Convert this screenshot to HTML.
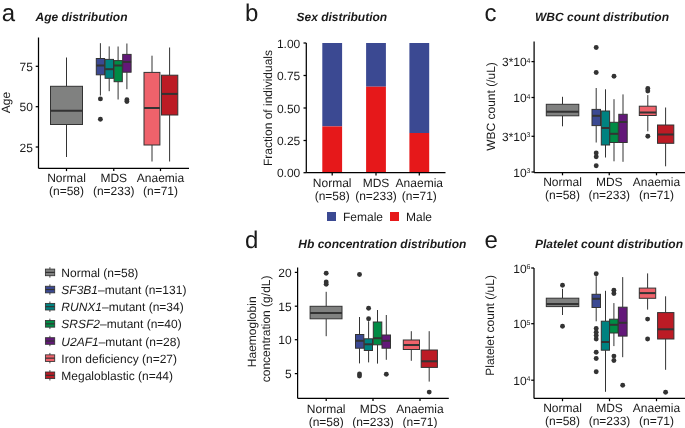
<!DOCTYPE html>
<html><head><meta charset="utf-8"><style>
html,body{margin:0;padding:0;background:#fff;width:685px;height:428px;overflow:hidden}
svg{display:block;font-family:"Liberation Sans", sans-serif;text-rendering:geometricPrecision;will-change:transform}
</style></head><body>
<svg width="685" height="428" viewBox="0 0 685 428">
<rect width="685" height="428" fill="#fff"/>
<text x="1.7" y="20.6" font-size="24" text-anchor="start" font-weight="normal" font-style="normal" fill="#1a1a1a" >a</text>
<text x="35.5" y="20.9" font-size="12" text-anchor="start" font-weight="bold" font-style="italic" fill="#1a1a1a" >Age distribution</text>
<line x1="66.5" y1="57.5" x2="66.5" y2="86.3" stroke="#333333" stroke-width="1"/>
<line x1="66.5" y1="124.5" x2="66.5" y2="157" stroke="#333333" stroke-width="1"/>
<rect x="50.5" y="86.3" width="32.00" height="38.20" fill="#808180" stroke="#333333" stroke-width="1"/>
<line x1="50.5" y1="110.8" x2="82.5" y2="110.8" stroke="#333333" stroke-width="2"/>
<line x1="100.4" y1="43.2" x2="100.4" y2="58.5" stroke="#333333" stroke-width="1"/>
<line x1="100.4" y1="74.8" x2="100.4" y2="95.5" stroke="#333333" stroke-width="1"/>
<rect x="96.3" y="58.5" width="8.30" height="16.30" fill="#3B4992" stroke="#333333" stroke-width="1"/>
<line x1="96.3" y1="65.5" x2="104.6" y2="65.5" stroke="#333333" stroke-width="2"/>
<circle cx="100.4" cy="98.9" r="2.45" fill="#333333"/>
<circle cx="100.4" cy="119.2" r="2.45" fill="#333333"/>
<line x1="109.2" y1="46.4" x2="109.2" y2="59.4" stroke="#333333" stroke-width="1"/>
<line x1="109.2" y1="78.3" x2="109.2" y2="91.2" stroke="#333333" stroke-width="1"/>
<rect x="105.1" y="59.4" width="8.40" height="18.90" fill="#008280" stroke="#333333" stroke-width="1"/>
<line x1="105.1" y1="69.2" x2="113.5" y2="69.2" stroke="#333333" stroke-width="2"/>
<line x1="118.1" y1="46.5" x2="118.1" y2="60.6" stroke="#333333" stroke-width="1"/>
<line x1="118.1" y1="81.7" x2="118.1" y2="99.5" stroke="#333333" stroke-width="1"/>
<rect x="114.1" y="60.6" width="8.20" height="21.10" fill="#008B45" stroke="#333333" stroke-width="1"/>
<line x1="114.1" y1="65.5" x2="122.3" y2="65.5" stroke="#333333" stroke-width="2"/>
<line x1="126.9" y1="43.5" x2="126.9" y2="54.4" stroke="#333333" stroke-width="1"/>
<line x1="126.9" y1="72.2" x2="126.9" y2="89.2" stroke="#333333" stroke-width="1"/>
<rect x="122.7" y="54.4" width="8.40" height="17.80" fill="#631879" stroke="#333333" stroke-width="1"/>
<line x1="122.7" y1="61.9" x2="131.1" y2="61.9" stroke="#333333" stroke-width="2"/>
<circle cx="126.9" cy="99.8" r="2.45" fill="#333333"/>
<circle cx="126.9" cy="101.5" r="2.45" fill="#333333"/>
<line x1="152" y1="55.7" x2="152" y2="72.4" stroke="#333333" stroke-width="1"/>
<line x1="152" y1="145" x2="152" y2="161.5" stroke="#333333" stroke-width="1"/>
<rect x="144.0" y="72.4" width="15.90" height="72.60" fill="#EF626B" stroke="#333333" stroke-width="1"/>
<line x1="144.0" y1="108" x2="159.9" y2="108" stroke="#333333" stroke-width="2"/>
<line x1="169.6" y1="47.5" x2="169.6" y2="75.2" stroke="#333333" stroke-width="1"/>
<line x1="169.6" y1="115" x2="169.6" y2="161.5" stroke="#333333" stroke-width="1"/>
<rect x="161.5" y="75.2" width="16.30" height="39.80" fill="#BC1B25" stroke="#333333" stroke-width="1"/>
<line x1="161.5" y1="93.9" x2="177.8" y2="93.9" stroke="#333333" stroke-width="2"/>
<line x1="38.5" y1="37.5" x2="38.5" y2="168.3" stroke="#000" stroke-width="1.25"/>
<line x1="38.5" y1="168.3" x2="189" y2="168.3" stroke="#000" stroke-width="1.25"/>
<line x1="35.7" y1="66.3" x2="38.5" y2="66.3" stroke="#000" stroke-width="1.25"/>
<text x="32.9" y="70.8" font-size="12" text-anchor="end" font-weight="normal" font-style="normal" fill="#1a1a1a" >75</text>
<line x1="35.7" y1="106.7" x2="38.5" y2="106.7" stroke="#000" stroke-width="1.25"/>
<text x="32.9" y="111.2" font-size="12" text-anchor="end" font-weight="normal" font-style="normal" fill="#1a1a1a" >50</text>
<line x1="35.7" y1="147" x2="38.5" y2="147" stroke="#000" stroke-width="1.25"/>
<text x="32.9" y="151.5" font-size="12" text-anchor="end" font-weight="normal" font-style="normal" fill="#1a1a1a" >25</text>
<line x1="66.5" y1="168.3" x2="66.5" y2="171.10000000000002" stroke="#000" stroke-width="1.25"/>
<text x="66.5" y="182.3" font-size="12" text-anchor="middle" font-weight="normal" font-style="normal" fill="#1a1a1a" >Normal</text>
<text x="66.5" y="195.3" font-size="12" text-anchor="middle" font-weight="normal" font-style="normal" fill="#1a1a1a" >(n=58)</text>
<line x1="113.75" y1="168.3" x2="113.75" y2="171.10000000000002" stroke="#000" stroke-width="1.25"/>
<text x="113.75" y="182.3" font-size="12" text-anchor="middle" font-weight="normal" font-style="normal" fill="#1a1a1a" >MDS</text>
<text x="113.75" y="195.3" font-size="12" text-anchor="middle" font-weight="normal" font-style="normal" fill="#1a1a1a" >(n=233)</text>
<line x1="160.5" y1="168.3" x2="160.5" y2="171.10000000000002" stroke="#000" stroke-width="1.25"/>
<text x="160.5" y="182.3" font-size="12" text-anchor="middle" font-weight="normal" font-style="normal" fill="#1a1a1a" >Anaemia</text>
<text x="160.5" y="195.3" font-size="12" text-anchor="middle" font-weight="normal" font-style="normal" fill="#1a1a1a" >(n=71)</text>
<text x="0" y="0" font-size="12" text-anchor="middle" fill="#1a1a1a" transform="translate(10.2,102.5) rotate(-90)">Age</text>
<text x="245" y="20.6" font-size="24" text-anchor="start" font-weight="normal" font-style="normal" fill="#1a1a1a" >b</text>
<text x="296.5" y="20.9" font-size="12" text-anchor="start" font-weight="bold" font-style="italic" fill="#1a1a1a" >Sex distribution</text>
<rect x="322.3" y="43" width="19.8" height="83.40" fill="#3B4992"/>
<rect x="322.3" y="126.4" width="19.8" height="46.30" fill="#E6181A"/>
<rect x="366.1" y="43" width="19.8" height="43.70" fill="#3B4992"/>
<rect x="366.1" y="86.7" width="19.8" height="86.00" fill="#E6181A"/>
<rect x="409.4" y="43" width="19.8" height="90.00" fill="#3B4992"/>
<rect x="409.4" y="133.0" width="19.8" height="39.70" fill="#E6181A"/>
<line x1="306.3" y1="43" x2="306.3" y2="172.7" stroke="#000" stroke-width="1.25"/>
<line x1="306.3" y1="172.7" x2="445.5" y2="172.7" stroke="#000" stroke-width="1.25"/>
<line x1="303.5" y1="43" x2="306.3" y2="43" stroke="#000" stroke-width="1.25"/>
<text x="300.3" y="47.5" font-size="12" text-anchor="end" font-weight="normal" font-style="normal" fill="#1a1a1a" >1.00</text>
<line x1="303.5" y1="75.5" x2="306.3" y2="75.5" stroke="#000" stroke-width="1.25"/>
<text x="300.3" y="80.0" font-size="12" text-anchor="end" font-weight="normal" font-style="normal" fill="#1a1a1a" >0.75</text>
<line x1="303.5" y1="108" x2="306.3" y2="108" stroke="#000" stroke-width="1.25"/>
<text x="300.3" y="112.5" font-size="12" text-anchor="end" font-weight="normal" font-style="normal" fill="#1a1a1a" >0.50</text>
<line x1="303.5" y1="140.5" x2="306.3" y2="140.5" stroke="#000" stroke-width="1.25"/>
<text x="300.3" y="145.0" font-size="12" text-anchor="end" font-weight="normal" font-style="normal" fill="#1a1a1a" >0.25</text>
<line x1="303.5" y1="172.7" x2="306.3" y2="172.7" stroke="#000" stroke-width="1.25"/>
<text x="300.3" y="177.2" font-size="12" text-anchor="end" font-weight="normal" font-style="normal" fill="#1a1a1a" >0.00</text>
<line x1="332.2" y1="172.7" x2="332.2" y2="175.5" stroke="#000" stroke-width="1.25"/>
<text x="332.2" y="186.9" font-size="12" text-anchor="middle" font-weight="normal" font-style="normal" fill="#1a1a1a" >Normal</text>
<text x="332.2" y="199.9" font-size="12" text-anchor="middle" font-weight="normal" font-style="normal" fill="#1a1a1a" >(n=58)</text>
<line x1="376" y1="172.7" x2="376" y2="175.5" stroke="#000" stroke-width="1.25"/>
<text x="376" y="186.9" font-size="12" text-anchor="middle" font-weight="normal" font-style="normal" fill="#1a1a1a" >MDS</text>
<text x="376" y="199.9" font-size="12" text-anchor="middle" font-weight="normal" font-style="normal" fill="#1a1a1a" >(n=233)</text>
<line x1="419.3" y1="172.7" x2="419.3" y2="175.5" stroke="#000" stroke-width="1.25"/>
<text x="419.3" y="186.9" font-size="12" text-anchor="middle" font-weight="normal" font-style="normal" fill="#1a1a1a" >Anaemia</text>
<text x="419.3" y="199.9" font-size="12" text-anchor="middle" font-weight="normal" font-style="normal" fill="#1a1a1a" >(n=71)</text>
<text x="0" y="0" font-size="12" text-anchor="middle" fill="#1a1a1a" transform="translate(271.5,108) rotate(-90)">Fraction of individuals</text>
<rect x="327" y="212" width="9" height="9" fill="#3B4992"/>
<text x="343" y="220.5" font-size="12" text-anchor="start" font-weight="normal" font-style="normal" fill="#1a1a1a" >Female</text>
<rect x="390" y="212" width="9" height="9" fill="#E6181A"/>
<text x="406" y="220.5" font-size="12" text-anchor="start" font-weight="normal" font-style="normal" fill="#1a1a1a" >Male</text>
<text x="484.5" y="20.6" font-size="24" text-anchor="start" font-weight="normal" font-style="normal" fill="#1a1a1a" >c</text>
<text x="535" y="20.9" font-size="12" text-anchor="start" font-weight="bold" font-style="italic" fill="#1a1a1a" >WBC count distribution</text>
<line x1="562.5" y1="96.8" x2="562.5" y2="104.3" stroke="#333333" stroke-width="1"/>
<line x1="562.5" y1="115.8" x2="562.5" y2="126.3" stroke="#333333" stroke-width="1"/>
<rect x="546.3" y="104.3" width="32.50" height="11.50" fill="#808180" stroke="#333333" stroke-width="1"/>
<line x1="546.3" y1="111.8" x2="578.8" y2="111.8" stroke="#333333" stroke-width="2"/>
<line x1="596.2" y1="88" x2="596.2" y2="109.4" stroke="#333333" stroke-width="1"/>
<line x1="596.2" y1="125.6" x2="596.2" y2="142.5" stroke="#333333" stroke-width="1"/>
<rect x="592" y="109.4" width="8.50" height="16.20" fill="#3B4992" stroke="#333333" stroke-width="1"/>
<line x1="592" y1="115.8" x2="600.5" y2="115.8" stroke="#333333" stroke-width="2"/>
<circle cx="596.2" cy="47.5" r="2.45" fill="#333333"/>
<circle cx="596.2" cy="72.5" r="2.45" fill="#333333"/>
<circle cx="596.2" cy="153" r="2.45" fill="#333333"/>
<circle cx="596.2" cy="156.8" r="2.45" fill="#333333"/>
<circle cx="596.2" cy="165.8" r="2.45" fill="#333333"/>
<line x1="605.5" y1="89.3" x2="605.5" y2="111" stroke="#333333" stroke-width="1"/>
<line x1="605.5" y1="145" x2="605.5" y2="157.5" stroke="#333333" stroke-width="1"/>
<rect x="601.3" y="111" width="8.30" height="34.00" fill="#008280" stroke="#333333" stroke-width="1"/>
<line x1="601.3" y1="128" x2="609.6" y2="128" stroke="#333333" stroke-width="2"/>
<line x1="614" y1="99.2" x2="614" y2="122.3" stroke="#333333" stroke-width="1"/>
<line x1="614" y1="142.5" x2="614" y2="161.3" stroke="#333333" stroke-width="1"/>
<rect x="609.8" y="122.3" width="8.50" height="20.20" fill="#008B45" stroke="#333333" stroke-width="1"/>
<line x1="609.8" y1="133.8" x2="618.3" y2="133.8" stroke="#333333" stroke-width="2"/>
<circle cx="614" cy="76.2" r="2.45" fill="#333333"/>
<line x1="623" y1="94.4" x2="623" y2="114.3" stroke="#333333" stroke-width="1"/>
<line x1="623" y1="142.5" x2="623" y2="161.8" stroke="#333333" stroke-width="1"/>
<rect x="618.8" y="114.3" width="8.40" height="28.20" fill="#631879" stroke="#333333" stroke-width="1"/>
<line x1="618.8" y1="122" x2="627.2" y2="122" stroke="#333333" stroke-width="2"/>
<line x1="647.8" y1="95.1" x2="647.8" y2="106.2" stroke="#333333" stroke-width="1"/>
<line x1="647.8" y1="115.5" x2="647.8" y2="131.3" stroke="#333333" stroke-width="1"/>
<rect x="639.3" y="106.2" width="16.90" height="9.30" fill="#EF626B" stroke="#333333" stroke-width="1"/>
<line x1="639.3" y1="112.5" x2="656.2" y2="112.5" stroke="#333333" stroke-width="2"/>
<circle cx="647.8" cy="88.5" r="2.45" fill="#333333"/>
<circle cx="647.8" cy="91" r="2.45" fill="#333333"/>
<circle cx="647.8" cy="136.3" r="2.45" fill="#333333"/>
<line x1="665.6" y1="107.5" x2="665.6" y2="125" stroke="#333333" stroke-width="1"/>
<line x1="665.6" y1="143.3" x2="665.6" y2="166.3" stroke="#333333" stroke-width="1"/>
<rect x="657.5" y="125" width="16.30" height="18.30" fill="#BC1B25" stroke="#333333" stroke-width="1"/>
<line x1="657.5" y1="134.5" x2="673.8" y2="134.5" stroke="#333333" stroke-width="2"/>
<line x1="534.1" y1="41.5" x2="534.1" y2="172.5" stroke="#000" stroke-width="1.25"/>
<line x1="534.1" y1="172.5" x2="685" y2="172.5" stroke="#000" stroke-width="1.25"/>
<line x1="562.5" y1="172.5" x2="562.5" y2="175.3" stroke="#000" stroke-width="1.25"/>
<text x="562.5" y="186.4" font-size="12" text-anchor="middle" font-weight="normal" font-style="normal" fill="#1a1a1a" >Normal</text>
<text x="562.5" y="199.4" font-size="12" text-anchor="middle" font-weight="normal" font-style="normal" fill="#1a1a1a" >(n=58)</text>
<line x1="609.25" y1="172.5" x2="609.25" y2="175.3" stroke="#000" stroke-width="1.25"/>
<text x="609.25" y="186.4" font-size="12" text-anchor="middle" font-weight="normal" font-style="normal" fill="#1a1a1a" >MDS</text>
<text x="609.25" y="199.4" font-size="12" text-anchor="middle" font-weight="normal" font-style="normal" fill="#1a1a1a" >(n=233)</text>
<line x1="656.5" y1="172.5" x2="656.5" y2="175.3" stroke="#000" stroke-width="1.25"/>
<text x="656.5" y="186.4" font-size="12" text-anchor="middle" font-weight="normal" font-style="normal" fill="#1a1a1a" >Anaemia</text>
<text x="656.5" y="199.4" font-size="12" text-anchor="middle" font-weight="normal" font-style="normal" fill="#1a1a1a" >(n=71)</text>
<line x1="531.5" y1="61.6" x2="534.3" y2="61.6" stroke="#000" stroke-width="1.25"/>
<text x="530.3" y="66.2" font-size="12" text-anchor="end" fill="#1a1a1a">3*10<tspan font-size="7" dy="-3.6" dx="-0.3">4</tspan></text>
<line x1="531.5" y1="97.5" x2="534.3" y2="97.5" stroke="#000" stroke-width="1.25"/>
<text x="530.3" y="102.1" font-size="12" text-anchor="end" fill="#1a1a1a">10<tspan font-size="7" dy="-3.6" dx="-0.3">4</tspan></text>
<line x1="531.5" y1="136.3" x2="534.3" y2="136.3" stroke="#000" stroke-width="1.25"/>
<text x="530.3" y="140.9" font-size="12" text-anchor="end" fill="#1a1a1a">3*10<tspan font-size="7" dy="-3.6" dx="-0.3">3</tspan></text>
<line x1="531.5" y1="172" x2="534.3" y2="172" stroke="#000" stroke-width="1.25"/>
<text x="530.3" y="176.6" font-size="12" text-anchor="end" fill="#1a1a1a">10<tspan font-size="7" dy="-3.6" dx="-0.3">3</tspan></text>
<text x="0" y="0" font-size="12" text-anchor="middle" fill="#1a1a1a" transform="translate(495,106.5) rotate(-90)">WBC count (/uL)</text>
<text x="245" y="248.3" font-size="24" text-anchor="start" font-weight="normal" font-style="normal" fill="#1a1a1a" >d</text>
<text x="298.3" y="247.6" font-size="12" text-anchor="start" font-weight="bold" font-style="italic" fill="#1a1a1a" >Hb concentration distribution</text>
<line x1="326.2" y1="291.8" x2="326.2" y2="306.3" stroke="#333333" stroke-width="1"/>
<line x1="326.2" y1="318.8" x2="326.2" y2="336.2" stroke="#333333" stroke-width="1"/>
<rect x="310.1" y="306.3" width="31.90" height="12.50" fill="#808180" stroke="#333333" stroke-width="1"/>
<line x1="310.1" y1="313" x2="342" y2="313" stroke="#333333" stroke-width="2"/>
<circle cx="326.2" cy="273.3" r="2.45" fill="#333333"/>
<circle cx="326.2" cy="282" r="2.45" fill="#333333"/>
<circle cx="326.2" cy="284.3" r="2.45" fill="#333333"/>
<line x1="359.5" y1="317" x2="359.5" y2="334.5" stroke="#333333" stroke-width="1"/>
<line x1="359.5" y1="348.2" x2="359.5" y2="363.4" stroke="#333333" stroke-width="1"/>
<rect x="355.5" y="334.5" width="8.30" height="13.70" fill="#3B4992" stroke="#333333" stroke-width="1"/>
<line x1="355.5" y1="340.8" x2="363.8" y2="340.8" stroke="#333333" stroke-width="2"/>
<circle cx="359.5" cy="274.5" r="2.45" fill="#333333"/>
<circle cx="359.5" cy="374" r="2.45" fill="#333333"/>
<circle cx="359.5" cy="376" r="2.45" fill="#333333"/>
<line x1="368.6" y1="321.3" x2="368.6" y2="338.8" stroke="#333333" stroke-width="1"/>
<line x1="368.6" y1="350.5" x2="368.6" y2="362.4" stroke="#333333" stroke-width="1"/>
<rect x="364.3" y="338.8" width="8.20" height="11.70" fill="#008280" stroke="#333333" stroke-width="1"/>
<line x1="364.3" y1="344.3" x2="372.5" y2="344.3" stroke="#333333" stroke-width="2"/>
<circle cx="368.6" cy="308.3" r="2.45" fill="#333333"/>
<circle cx="368.6" cy="318.8" r="2.45" fill="#333333"/>
<line x1="377.5" y1="310" x2="377.5" y2="322" stroke="#333333" stroke-width="1"/>
<line x1="377.5" y1="344.8" x2="377.5" y2="363.6" stroke="#333333" stroke-width="1"/>
<rect x="373.3" y="322" width="8.50" height="22.80" fill="#008B45" stroke="#333333" stroke-width="1"/>
<line x1="373.3" y1="338.2" x2="381.8" y2="338.2" stroke="#333333" stroke-width="2"/>
<line x1="386.3" y1="315" x2="386.3" y2="335" stroke="#333333" stroke-width="1"/>
<line x1="386.3" y1="348.2" x2="386.3" y2="359.8" stroke="#333333" stroke-width="1"/>
<rect x="382" y="335" width="8.50" height="13.20" fill="#631879" stroke="#333333" stroke-width="1"/>
<line x1="382" y1="340.8" x2="390.5" y2="340.8" stroke="#333333" stroke-width="2"/>
<circle cx="386.3" cy="374.2" r="2.45" fill="#333333"/>
<line x1="411.3" y1="331.2" x2="411.3" y2="340" stroke="#333333" stroke-width="1"/>
<line x1="411.3" y1="349.5" x2="411.3" y2="360.8" stroke="#333333" stroke-width="1"/>
<rect x="403.3" y="340" width="16.20" height="9.50" fill="#EF626B" stroke="#333333" stroke-width="1"/>
<line x1="403.3" y1="345" x2="419.5" y2="345" stroke="#333333" stroke-width="2"/>
<line x1="429.2" y1="331.2" x2="429.2" y2="350" stroke="#333333" stroke-width="1"/>
<line x1="429.2" y1="367.4" x2="429.2" y2="381.6" stroke="#333333" stroke-width="1"/>
<rect x="421.2" y="350" width="16.20" height="17.40" fill="#BC1B25" stroke="#333333" stroke-width="1"/>
<line x1="421.2" y1="361.3" x2="437.4" y2="361.3" stroke="#333333" stroke-width="2"/>
<circle cx="429.2" cy="392.1" r="2.45" fill="#333333"/>
<line x1="297.6" y1="267.5" x2="297.6" y2="398.3" stroke="#000" stroke-width="1.25"/>
<line x1="297.6" y1="398.3" x2="448.8" y2="398.3" stroke="#000" stroke-width="1.25"/>
<line x1="294.8" y1="272.4" x2="297.6" y2="272.4" stroke="#000" stroke-width="1.25"/>
<text x="291.6" y="276.9" font-size="12" text-anchor="end" font-weight="normal" font-style="normal" fill="#1a1a1a" >20</text>
<line x1="294.8" y1="306.2" x2="297.6" y2="306.2" stroke="#000" stroke-width="1.25"/>
<text x="291.6" y="310.7" font-size="12" text-anchor="end" font-weight="normal" font-style="normal" fill="#1a1a1a" >15</text>
<line x1="294.8" y1="339.7" x2="297.6" y2="339.7" stroke="#000" stroke-width="1.25"/>
<text x="291.6" y="344.2" font-size="12" text-anchor="end" font-weight="normal" font-style="normal" fill="#1a1a1a" >10</text>
<line x1="294.8" y1="373.6" x2="297.6" y2="373.6" stroke="#000" stroke-width="1.25"/>
<text x="291.6" y="378.1" font-size="12" text-anchor="end" font-weight="normal" font-style="normal" fill="#1a1a1a" >5</text>
<line x1="326.2" y1="398.3" x2="326.2" y2="401.1" stroke="#000" stroke-width="1.25"/>
<text x="326.2" y="412.5" font-size="12" text-anchor="middle" font-weight="normal" font-style="normal" fill="#1a1a1a" >Normal</text>
<text x="326.2" y="425.5" font-size="12" text-anchor="middle" font-weight="normal" font-style="normal" fill="#1a1a1a" >(n=58)</text>
<line x1="373" y1="398.3" x2="373" y2="401.1" stroke="#000" stroke-width="1.25"/>
<text x="373" y="412.5" font-size="12" text-anchor="middle" font-weight="normal" font-style="normal" fill="#1a1a1a" >MDS</text>
<text x="373" y="425.5" font-size="12" text-anchor="middle" font-weight="normal" font-style="normal" fill="#1a1a1a" >(n=233)</text>
<line x1="420" y1="398.3" x2="420" y2="401.1" stroke="#000" stroke-width="1.25"/>
<text x="420" y="412.5" font-size="12" text-anchor="middle" font-weight="normal" font-style="normal" fill="#1a1a1a" >Anaemia</text>
<text x="420" y="425.5" font-size="12" text-anchor="middle" font-weight="normal" font-style="normal" fill="#1a1a1a" >(n=71)</text>
<text x="0" y="0" font-size="12" text-anchor="middle" fill="#1a1a1a" transform="translate(255.5,331.8) rotate(-90)">Haemoglobin</text>
<text x="0" y="0" font-size="12" text-anchor="middle" fill="#1a1a1a" transform="translate(270.2,328.9) rotate(-90)">concentration (g/dL)</text>
<text x="484.5" y="248.1" font-size="24" text-anchor="start" font-weight="normal" font-style="normal" fill="#1a1a1a" >e</text>
<text x="535" y="248.2" font-size="12" text-anchor="start" font-weight="bold" font-style="italic" fill="#1a1a1a" >Platelet count distribution</text>
<line x1="562.5" y1="288.8" x2="562.5" y2="298.2" stroke="#333333" stroke-width="1"/>
<line x1="562.5" y1="306.6" x2="562.5" y2="315" stroke="#333333" stroke-width="1"/>
<rect x="546.3" y="298.2" width="32.50" height="8.40" fill="#808180" stroke="#333333" stroke-width="1"/>
<line x1="546.3" y1="304.1" x2="578.8" y2="304.1" stroke="#333333" stroke-width="2"/>
<circle cx="562.5" cy="285.2" r="2.45" fill="#333333"/>
<circle cx="562.5" cy="326.2" r="2.45" fill="#333333"/>
<line x1="596.2" y1="276.2" x2="596.2" y2="294.3" stroke="#333333" stroke-width="1"/>
<line x1="596.2" y1="307.5" x2="596.2" y2="321.3" stroke="#333333" stroke-width="1"/>
<rect x="592" y="294.3" width="8.50" height="13.20" fill="#3B4992" stroke="#333333" stroke-width="1"/>
<line x1="592" y1="298.8" x2="600.5" y2="298.8" stroke="#333333" stroke-width="2"/>
<circle cx="596.2" cy="273.8" r="2.45" fill="#333333"/>
<circle cx="596.2" cy="328.5" r="2.45" fill="#333333"/>
<circle cx="596.2" cy="332.2" r="2.45" fill="#333333"/>
<circle cx="596.2" cy="335.5" r="2.45" fill="#333333"/>
<circle cx="596.2" cy="339" r="2.45" fill="#333333"/>
<circle cx="596.2" cy="352.2" r="2.45" fill="#333333"/>
<circle cx="596.2" cy="358.5" r="2.45" fill="#333333"/>
<circle cx="596.2" cy="371.8" r="2.45" fill="#333333"/>
<line x1="605.5" y1="290.8" x2="605.5" y2="321.2" stroke="#333333" stroke-width="1"/>
<line x1="605.5" y1="350.2" x2="605.5" y2="391.8" stroke="#333333" stroke-width="1"/>
<rect x="601.3" y="321.2" width="8.20" height="29.00" fill="#008280" stroke="#333333" stroke-width="1"/>
<line x1="601.3" y1="342" x2="609.5" y2="342" stroke="#333333" stroke-width="2"/>
<line x1="613.9" y1="303.1" x2="613.9" y2="319.2" stroke="#333333" stroke-width="1"/>
<line x1="613.9" y1="333" x2="613.9" y2="346.1" stroke="#333333" stroke-width="1"/>
<rect x="609.6" y="319.2" width="8.50" height="13.80" fill="#008B45" stroke="#333333" stroke-width="1"/>
<line x1="609.6" y1="324.8" x2="618.1" y2="324.8" stroke="#333333" stroke-width="2"/>
<circle cx="613.9" cy="290.2" r="2.45" fill="#333333"/>
<circle cx="613.9" cy="293.5" r="2.45" fill="#333333"/>
<circle cx="613.9" cy="356.1" r="2.45" fill="#333333"/>
<circle cx="613.9" cy="360.5" r="2.45" fill="#333333"/>
<line x1="622.7" y1="277.1" x2="622.7" y2="307.2" stroke="#333333" stroke-width="1"/>
<line x1="622.7" y1="336.1" x2="622.7" y2="357.2" stroke="#333333" stroke-width="1"/>
<rect x="618.4" y="307.2" width="8.70" height="28.90" fill="#631879" stroke="#333333" stroke-width="1"/>
<line x1="618.4" y1="322.8" x2="627.1" y2="322.8" stroke="#333333" stroke-width="2"/>
<circle cx="622.7" cy="385.2" r="2.45" fill="#333333"/>
<line x1="647.6" y1="273.4" x2="647.6" y2="288.1" stroke="#333333" stroke-width="1"/>
<line x1="647.6" y1="298.3" x2="647.6" y2="309.6" stroke="#333333" stroke-width="1"/>
<rect x="639.3" y="288.1" width="16.40" height="10.20" fill="#EF626B" stroke="#333333" stroke-width="1"/>
<line x1="639.3" y1="293.1" x2="655.7" y2="293.1" stroke="#333333" stroke-width="2"/>
<circle cx="647.6" cy="319.1" r="2.45" fill="#333333"/>
<circle cx="647.6" cy="339" r="2.45" fill="#333333"/>
<line x1="665.6" y1="296.3" x2="665.6" y2="312.6" stroke="#333333" stroke-width="1"/>
<line x1="665.6" y1="339" x2="665.6" y2="369.8" stroke="#333333" stroke-width="1"/>
<rect x="657.6" y="312.6" width="16.30" height="26.40" fill="#BC1B25" stroke="#333333" stroke-width="1"/>
<line x1="657.6" y1="329.3" x2="673.9" y2="329.3" stroke="#333333" stroke-width="2"/>
<circle cx="665.6" cy="392.3" r="2.45" fill="#333333"/>
<line x1="534" y1="268" x2="534" y2="398.4" stroke="#000" stroke-width="1.25"/>
<line x1="534" y1="398.4" x2="685" y2="398.4" stroke="#000" stroke-width="1.25"/>
<line x1="562.5" y1="398.4" x2="562.5" y2="401.2" stroke="#000" stroke-width="1.25"/>
<text x="562.5" y="412.3" font-size="12" text-anchor="middle" font-weight="normal" font-style="normal" fill="#1a1a1a" >Normal</text>
<text x="562.5" y="425.3" font-size="12" text-anchor="middle" font-weight="normal" font-style="normal" fill="#1a1a1a" >(n=58)</text>
<line x1="609.5" y1="398.4" x2="609.5" y2="401.2" stroke="#000" stroke-width="1.25"/>
<text x="609.5" y="412.3" font-size="12" text-anchor="middle" font-weight="normal" font-style="normal" fill="#1a1a1a" >MDS</text>
<text x="609.5" y="425.3" font-size="12" text-anchor="middle" font-weight="normal" font-style="normal" fill="#1a1a1a" >(n=233)</text>
<line x1="656.5" y1="398.4" x2="656.5" y2="401.2" stroke="#000" stroke-width="1.25"/>
<text x="656.5" y="412.3" font-size="12" text-anchor="middle" font-weight="normal" font-style="normal" fill="#1a1a1a" >Anaemia</text>
<text x="656.5" y="425.3" font-size="12" text-anchor="middle" font-weight="normal" font-style="normal" fill="#1a1a1a" >(n=71)</text>
<line x1="531.2" y1="268" x2="534" y2="268" stroke="#000" stroke-width="1.25"/>
<text x="530.3" y="272.6" font-size="12" text-anchor="end" fill="#1a1a1a">10<tspan font-size="7" dy="-3.6" dx="-0.3">6</tspan></text>
<line x1="531.2" y1="323.7" x2="534" y2="323.7" stroke="#000" stroke-width="1.25"/>
<text x="530.3" y="328.3" font-size="12" text-anchor="end" fill="#1a1a1a">10<tspan font-size="7" dy="-3.6" dx="-0.3">5</tspan></text>
<line x1="531.2" y1="380.2" x2="534" y2="380.2" stroke="#000" stroke-width="1.25"/>
<text x="530.3" y="384.8" font-size="12" text-anchor="end" fill="#1a1a1a">10<tspan font-size="7" dy="-3.6" dx="-0.3">4</tspan></text>
<text x="0" y="0" font-size="12" text-anchor="middle" fill="#1a1a1a" transform="translate(493.8,325.4) rotate(-90)">Platelet count (/uL)</text>
<line x1="49.9" y1="267.2" x2="49.9" y2="277.59999999999997" stroke="#333333" stroke-width="0.9"/>
<rect x="45.4" y="269.09999999999997" width="9.3" height="6.6" fill="#808180" stroke="#333333" stroke-width="0.85"/>
<line x1="45.4" y1="272.4" x2="54.7" y2="272.4" stroke="#333333" stroke-width="1.2"/>
<text x="61.3" y="276.9" font-size="12" text-anchor="start" font-weight="normal" font-style="normal" fill="#1a1a1a" >Normal (n=58)</text>
<line x1="49.9" y1="284.34999999999997" x2="49.9" y2="294.74999999999994" stroke="#333333" stroke-width="0.9"/>
<rect x="45.4" y="286.24999999999994" width="9.3" height="6.6" fill="#3B4992" stroke="#333333" stroke-width="0.85"/>
<line x1="45.4" y1="289.54999999999995" x2="54.7" y2="289.54999999999995" stroke="#333333" stroke-width="1.2"/>
<text x="61.3" y="294.04999999999995" font-size="12" text-anchor="start" font-weight="normal" font-style="normal" fill="#1a1a1a" ><tspan font-style="italic">SF3B1</tspan>–mutant (n=131)</text>
<line x1="49.9" y1="301.5" x2="49.9" y2="311.9" stroke="#333333" stroke-width="0.9"/>
<rect x="45.4" y="303.4" width="9.3" height="6.6" fill="#008280" stroke="#333333" stroke-width="0.85"/>
<line x1="45.4" y1="306.7" x2="54.7" y2="306.7" stroke="#333333" stroke-width="1.2"/>
<text x="61.3" y="311.2" font-size="12" text-anchor="start" font-weight="normal" font-style="normal" fill="#1a1a1a" ><tspan font-style="italic">RUNX1</tspan>–mutant (n=34)</text>
<line x1="49.9" y1="318.65" x2="49.9" y2="329.04999999999995" stroke="#333333" stroke-width="0.9"/>
<rect x="45.4" y="320.54999999999995" width="9.3" height="6.6" fill="#008B45" stroke="#333333" stroke-width="0.85"/>
<line x1="45.4" y1="323.84999999999997" x2="54.7" y2="323.84999999999997" stroke="#333333" stroke-width="1.2"/>
<text x="61.3" y="328.34999999999997" font-size="12" text-anchor="start" font-weight="normal" font-style="normal" fill="#1a1a1a" ><tspan font-style="italic">SRSF2</tspan>–mutant (n=40)</text>
<line x1="49.9" y1="335.8" x2="49.9" y2="346.2" stroke="#333333" stroke-width="0.9"/>
<rect x="45.4" y="337.7" width="9.3" height="6.6" fill="#631879" stroke="#333333" stroke-width="0.85"/>
<line x1="45.4" y1="341.0" x2="54.7" y2="341.0" stroke="#333333" stroke-width="1.2"/>
<text x="61.3" y="345.5" font-size="12" text-anchor="start" font-weight="normal" font-style="normal" fill="#1a1a1a" ><tspan font-style="italic">U2AF1</tspan>–mutant (n=28)</text>
<line x1="49.9" y1="352.95" x2="49.9" y2="363.34999999999997" stroke="#333333" stroke-width="0.9"/>
<rect x="45.4" y="354.84999999999997" width="9.3" height="6.6" fill="#EF626B" stroke="#333333" stroke-width="0.85"/>
<line x1="45.4" y1="358.15" x2="54.7" y2="358.15" stroke="#333333" stroke-width="1.2"/>
<text x="61.3" y="362.65" font-size="12" text-anchor="start" font-weight="normal" font-style="normal" fill="#1a1a1a" >Iron deficiency (n=27)</text>
<line x1="49.9" y1="370.09999999999997" x2="49.9" y2="380.49999999999994" stroke="#333333" stroke-width="0.9"/>
<rect x="45.4" y="371.99999999999994" width="9.3" height="6.6" fill="#BC1B25" stroke="#333333" stroke-width="0.85"/>
<line x1="45.4" y1="375.29999999999995" x2="54.7" y2="375.29999999999995" stroke="#333333" stroke-width="1.2"/>
<text x="61.3" y="379.79999999999995" font-size="12" text-anchor="start" font-weight="normal" font-style="normal" fill="#1a1a1a" >Megaloblastic (n=44)</text>
</svg></body></html>
